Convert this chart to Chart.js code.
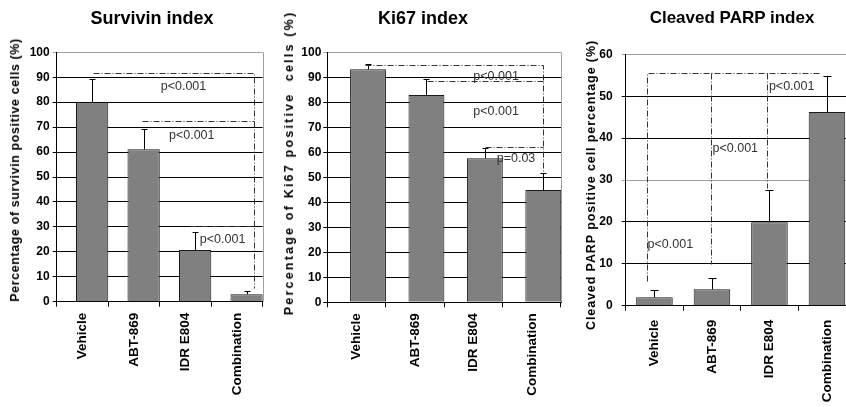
<!DOCTYPE html>
<html>
<head>
<meta charset="utf-8">
<script src="https://cdn.jsdelivr.net/npm/chart.js@4.4.1/dist/chart.umd.min.js"></script>
<style>
  body { margin: 0; background: #fff; width: 846px; height: 407px; overflow: hidden; position: relative;
         font-family: "Liberation Sans", Arial, sans-serif; }
  .panel { position: absolute; top: 0; height: 407px; width: 282px; overflow: hidden; }
  .title { position: absolute; top: 9px; font-size: 18px; line-height: 18px; font-weight: bold;
           white-space: nowrap; transform: translateX(-50%); }
  .ytitle { position: absolute; font-size: 12.5px; font-weight: bold; white-space: nowrap;
            transform: translate(-50%, -50%) rotate(-90deg); }
</style>
</head>
<body>
<div class="panel" style="left:0"><canvas id="survivin" width="282" height="407"></canvas></div>
<div class="panel" style="left:282px"><canvas id="ki67" width="282" height="407"></canvas></div>
<div class="panel" style="left:564px"><canvas id="parp" width="300" height="407"></canvas></div>

<div class="title" style="left:152px">Survivin index</div>
<div class="title" style="left:423px">Ki67 index</div>
<div class="title" style="left:732px;font-size:17px">Cleaved PARP index</div>

<div class="ytitle" style="left:15px;top:170px;letter-spacing:0.6px">Percentage of survivin positive cells (%)</div>
<div class="ytitle" style="left:289px;top:163px;letter-spacing:2.2px">Percentage of Ki67 positive&nbsp; cells (%)</div>
<div class="ytitle" style="left:591px;top:185px;letter-spacing:0.9px">Cleaved PARP positive cell percentage (%)</div>

<script>
const categories = ['Vehicle', 'ABT-869', 'IDR E804', 'Combination'];

// means and upper error (SD)
const survivinMeans = [79.9, 61.1, 20.7, 3.0];
const survivinSd = [9.3, 8.0, 7.1, 1.4];
const ki67Means = [93.2, 82.9, 57.6, 44.9];
const ki67Sd = [2.0, 6.3, 4.0, 6.7];
const parpMeans = [2.0, 3.9, 19.9, 46.2];
const parpSd = [1.8, 2.6, 7.7, 8.7];

const percentTicks = [0, 10, 20, 30, 40, 50, 60, 70, 80, 90, 100];
const parpTicks = [0, 10, 20, 30, 40, 50, 60];

// significance brackets, polylines as [category position, value]
const survivinBrackets = [
  [[0.21, 91.7], [3.34, 91.7], [3.34, 5.5]],
  [[1.15, 72.5], [3.34, 72.5]],
  [[2.09, 30.4], [3.34, 30.4]]
];
const survivinPLabels = ['p<0.001', 'p<0.001', 'p<0.001'];
const survivinPAt = [[1.52, 86.2], [1.68, 66.8], [2.28, 25.0]];

const ki67Brackets = [
  [[0.15, 94.9], [3.19, 94.9], [3.19, 51.6]],
  [[1.2, 88.5], [3.19, 88.5]],
  [[2.2, 62.2], [3.19, 62.2]]
];
const ki67PLabels = ['p<0.001', 'p<0.001', 'p=0.03'];
const ki67PAt = [[2.0, 90.2], [2.0, 76.5], [2.4, 57.6]];

const parpBrackets = [
  [[-0.135, 6.0], [-0.135, 55.5], [2.89, 55.5]],
  [[0.98, 55.5], [0.98, 9.9]],
  [[1.96, 55.5], [1.96, 28.0]]
];
const parpPLabels = ['p<0.001', 'p<0.001', 'p<0.001'];
const parpPAt = [[-0.12, 14.5], [1.01, 37.6], [1.99, 52.2]];

const FONT = '"Liberation Sans", Arial, sans-serif';

// error bars, brackets, p values and the grey frame line on the right
function annotations(means, sd, brackets, labels, labelAt, cap) {
  return {
    id: 'annotations',
    afterDatasetsDraw(chart) {
      const { ctx, scales: { x, y }, chartArea } = chart;
      const meta = chart.getDatasetMeta(chart.data.datasets.length - 1);
      const px = v => Math.round(v) + 0.5;
      ctx.save();

      ctx.strokeStyle = '#a0a0a0';
      ctx.lineWidth = 1;
      ctx.beginPath();
      ctx.moveTo(px(chartArea.right), chartArea.top);
      ctx.lineTo(px(chartArea.right), chartArea.bottom);
      ctx.stroke();

      ctx.strokeStyle = '#000';
      meta.data.forEach((bar, i) => {
        const top = y.getPixelForValue(means[i]);
        const end = px(y.getPixelForValue(means[i] + sd[i]));
        const bx = px(bar.x);
        ctx.beginPath();
        ctx.moveTo(bx, top);
        ctx.lineTo(bx, end);
        ctx.moveTo(bx - cap / 2, end);
        ctx.lineTo(bx + cap / 2, end);
        ctx.stroke();
      });

      ctx.strokeStyle = '#333';
      ctx.setLineDash([6, 2, 1, 2]);
      brackets.forEach(line => {
        ctx.beginPath();
        line.forEach(([c, v], k) => {
          const X = px(x.getPixelForValue(c));
          const Y = px(y.getPixelForValue(v));
          if (k === 0) ctx.moveTo(X, Y); else ctx.lineTo(X, Y);
        });
        ctx.stroke();
      });
      ctx.setLineDash([]);

      ctx.fillStyle = '#333';
      ctx.font = '12.5px ' + FONT;
      ctx.textAlign = 'left';
      ctx.textBaseline = 'middle';
      labels.forEach((t, i) => {
        ctx.fillText(t, x.getPixelForValue(labelAt[i][0]), y.getPixelForValue(labelAt[i][1]));
      });
      ctx.restore();
    }
  };
}

function makeChart(id, opt) {
  const bars = {
    data: opt.means,
    backgroundColor: '#808080',
    borderColor: '#1a1a1a',
    borderWidth: 1,
    categoryPercentage: opt.catPct,
    barPercentage: opt.barPct
  };
  // Excel had an empty first series, so the bars sit to the right of each slot
  const datasets = opt.spacer
    ? [{ data: categories.map(() => null), categoryPercentage: opt.catPct, barPercentage: opt.barPct }, bars]
    : [bars];

  return new Chart(document.getElementById(id), {
    type: 'bar',
    data: { labels: categories, datasets },
    options: {
      responsive: false,
      animation: false,
      layout: { padding: { left: 0, right: opt.padRight, top: opt.top, bottom: 0 } },
      plugins: { legend: { display: false }, tooltip: { enabled: false } },
      scales: {
        x: {
          afterFit: s => { s.height = opt.xHeight; },
          ticks: { maxRotation: 90, minRotation: 90, padding: opt.xPad, color: '#000',
                   font: { family: FONT, size: 13.5, weight: 'bold' } },
          grid: { offset: true, drawOnChartArea: false, tickLength: 5, color: '#000' },
          border: { color: '#000' }
        },
        y: {
          min: 0,
          max: opt.ticks[opt.ticks.length - 1],
          afterFit: s => { s.width = opt.yWidth; },
          afterBuildTicks: s => { s.ticks = opt.ticks.map(v => ({ value: v })); },
          ticks: { padding: opt.yPad, color: '#000', font: { family: FONT, size: 12, weight: 'bold' } },
          grid: { tickLength: 4, color: c => opt.greyLines.includes(c.tick && c.tick.value) ? '#a0a0a0' : '#000' },
          border: { color: '#000' }
        }
      }
    },
    plugins: [annotations(opt.means, opt.sd, opt.brackets, opt.labels, opt.labelAt, opt.cap)]
  });
}

makeChart('survivin', {
  means: survivinMeans, sd: survivinSd, ticks: percentTicks, greyLines: [100],
  brackets: survivinBrackets, labels: survivinPLabels, labelAt: survivinPAt,
  spacer: true, catPct: 0.753, barPct: 1.665, cap: 6,
  yWidth: 56.7, padRight: 19.3, top: 52.3, xHeight: 105.3, yPad: 3, xPad: 6
});

makeChart('ki67', {
  means: ki67Means, sd: ki67Sd, ticks: percentTicks, greyLines: [100],
  brackets: ki67Brackets, labels: ki67PLabels, labelAt: ki67PAt,
  spacer: true, catPct: 0.787, barPct: 1.56, cap: 6,
  yWidth: 45.3, padRight: 3, top: 52.3, xHeight: 104.7, yPad: 2, xPad: 6
});

makeChart('parp', {
  means: parpMeans, sd: parpSd, ticks: parpTicks, greyLines: [60, 30],
  brackets: parpBrackets, labels: parpPLabels, labelAt: parpPAt,
  spacer: false, catPct: 1, barPct: 0.636, cap: 8,
  yWidth: 61.7, padRight: 8.3, top: 54.3, xHeight: 101.3, yPad: 9, xPad: 9
});
</script>
</body>
</html>
